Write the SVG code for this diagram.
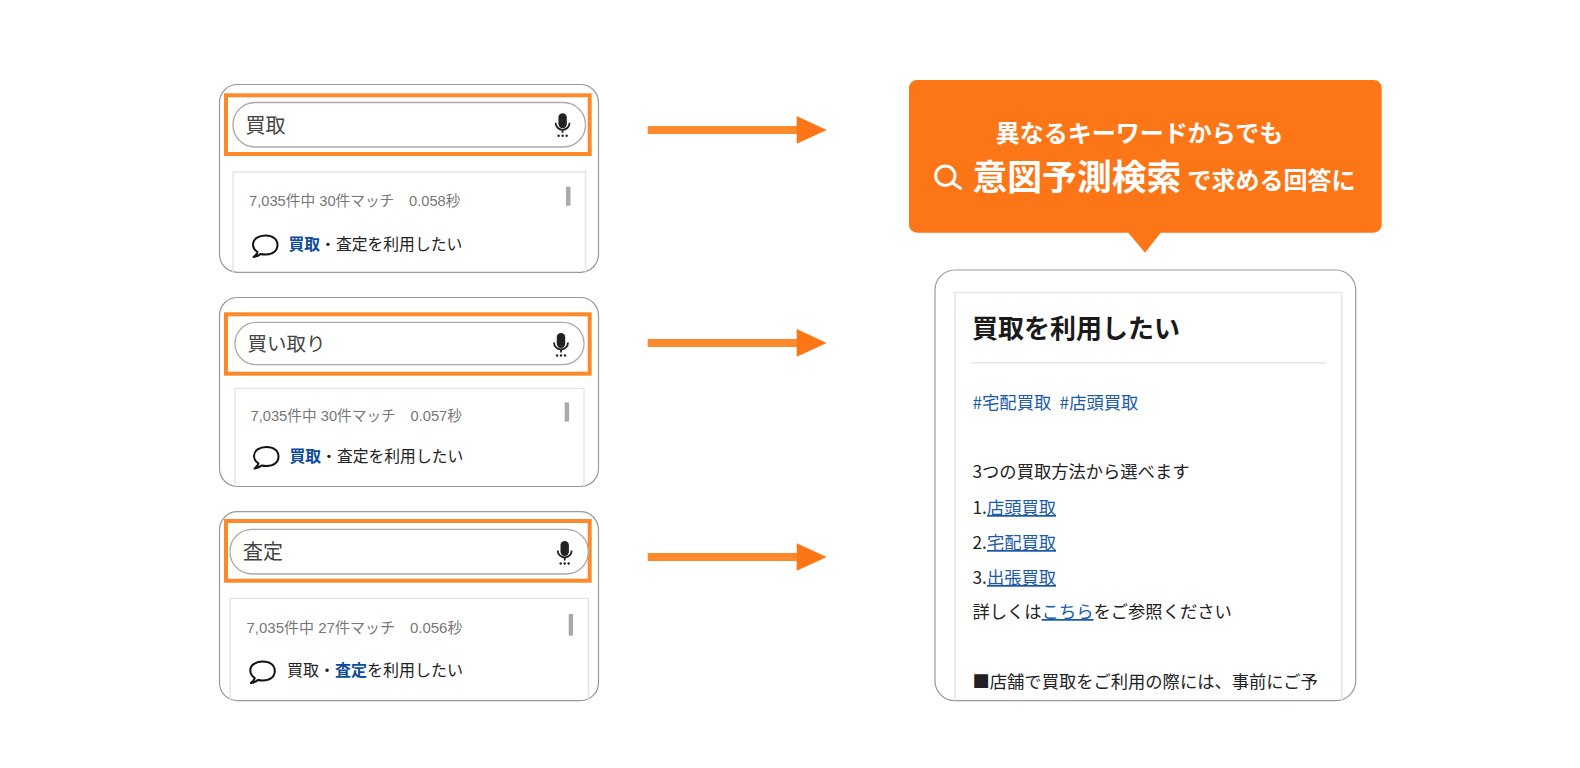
<svg xmlns="http://www.w3.org/2000/svg" width="1580" height="768" viewBox="0 0 1580 768">
<style>
text{font-family:"Noto Sans CJK JP","Noto Sans",sans-serif}
.panel{fill:#fff;stroke:#999;stroke-width:1.2}
.hl{fill:none;stroke:#fd892b;stroke-width:4}
.pill{fill:#fff;stroke:#aaa;stroke-width:1.3}
.inner{fill:none;stroke:#e2e2e2;stroke-width:1.3}
.q{font-size:20px;fill:#444}
.meta{font-size:14.7px;fill:#777;font-family:"Liberation Sans","Noto Sans CJK JP",sans-serif}
.res{font-size:15.8px;fill:#222}
.b{font-weight:700;fill:#0f4c9c}
.sb{fill:#aaa}
.bub{fill:none;stroke:#111;stroke-width:2;stroke-linejoin:round}
.body{font-size:17.3px;fill:#222}
.lk{fill:#1c5aa8}
.u{text-decoration:underline}
.wt{fill:#fff;font-weight:700}
.ln{fill:#fd892b}
.hd{fill:#fc7618}
</style>
<defs>
<g id="mic"><rect x="-4.200" y="-11" width="8.400" height="15" rx="4.200" fill="#222"/><path d="M-7 -1.500a7 7 0 0 0 14 0" fill="none" stroke="#222" stroke-width="1.800"/><path d="M0 5.500v3" stroke="#222" stroke-width="1.800"/><circle cx="-4" cy="11.500" r="1.200" fill="#222"/><circle cx="0" cy="11.500" r="1.200" fill="#222"/><circle cx="4" cy="11.500" r="1.200" fill="#222"/></g>
<path id="bubble" class="bub" d="M-7.500 6.500C-10.500 4.500 -12 2 -12 -1C-12 -6.500 -6.500 -10 0.500 -10C7.500 -10 12.500 -6.500 12.500 -0.500C12.500 5.500 7.500 9 0.500 9C-1 9 -3 8.800 -4.500 8.500C-6 10 -9 11 -11.500 11.500C-9.500 10 -8 8.500 -7.500 6.500Z"/>
</defs>
<g id="panel1">
<rect class="panel" x="219.500" y="84.500" width="379" height="187.800" rx="18"/>
<path class="inner" d="M233 272V172H585.500V272"/>
<rect class="hl" x="226" y="95.300" width="363.700" height="58.700"/>
<rect class="pill" x="233" y="102.500" width="352.500" height="44.500" rx="22"/>
<text class="q" x="245.500" y="132.500">買取</text>
<use href="#mic" x="562.600" y="124.300"/>
<text class="meta" x="249" y="206">7,035件中 30件マッチ　0.058秒</text>
<rect class="sb" x="566" y="186.700" width="4.500" height="19"/>
<use href="#bubble" x="265" y="245.500"/>
<text class="res" x="288.500" y="250"><tspan class="b">買取</tspan>・査定を利用したい</text>
</g>
<g id="panel2">
<rect class="panel" x="219.500" y="297.500" width="379" height="189" rx="18"/>
<path class="inner" d="M235 486.500V388.300H584V486.500"/>
<rect class="hl" x="226" y="314.300" width="363.700" height="59.400"/>
<rect class="pill" x="235" y="322.300" width="349" height="42.400" rx="21"/>
<text class="q" x="247.500" y="350.500" style="font-size:19.500px">買い取り</text>
<use href="#mic" x="561" y="344"/>
<text class="meta" x="250.500" y="421">7,035件中 30件マッチ　0.057秒</text>
<rect class="sb" x="564.700" y="402.300" width="4.400" height="19.400"/>
<use href="#bubble" x="266" y="457"/>
<text class="res" x="289.500" y="462"><tspan class="b">買取</tspan>・査定を利用したい</text>
</g>
<g id="panel3">
<rect class="panel" x="219.500" y="511.700" width="379" height="189" rx="18"/>
<path class="inner" d="M230 700.500V598.300H588.300V700.500"/>
<rect class="hl" x="226" y="521" width="363.700" height="59.700"/>
<rect class="pill" x="230" y="529.300" width="358.300" height="44.700" rx="22"/>
<text class="q" x="243" y="558.500">査定</text>
<use href="#mic" x="564.700" y="552"/>
<text class="meta" x="246.500" y="633" style="font-size:15px">7,035件中 27件マッチ　0.056秒</text>
<rect class="sb" x="568.700" y="614" width="4.300" height="21.700"/>
<use href="#bubble" x="262.300" y="671.500"/>
<text class="res" x="287" y="676" style="font-size:16px">買取・<tspan class="b">査定</tspan>を利用したい</text>
</g>
<g id="connectors">
<g id="arrow1"><rect class="ln" x="647.700" y="126" width="150" height="8"/><path class="hd" d="M796.700 116L826.700 130L796.700 143.700Z"/></g>
<g id="arrow2"><rect class="ln" x="647.700" y="339" width="150" height="8"/><path class="hd" d="M796.700 329L826.700 343L796.700 356.700Z"/></g>
<g id="arrow3"><rect class="ln" x="647.700" y="553" width="150" height="8"/><path class="hd" d="M796.700 543.300L826.700 557L796.700 570.700Z"/></g>
</g>
<g id="callout">
<path d="M917 80H1373.700a8 8 0 0 1 8 8V224.700a8 8 0 0 1 -8 8H1160.700L1145 252.700L1128.300 232.700H917a8 8 0 0 1 -8 -8V88a8 8 0 0 1 8 -8Z" fill="#fc7618"/>
<text class="wt" x="1139.500" y="141.500" font-size="24" text-anchor="middle">異なるキーワードからでも</text>
<circle cx="945.300" cy="175.700" r="9.700" fill="none" stroke="#fff" stroke-width="3"/>
<path d="M952.500 183L961.500 189" stroke="#fff" stroke-width="3" fill="none"/>
<text class="wt" x="972.500" y="190" font-size="34.800">意図予測検索</text>
<text class="wt" x="1187.500" y="188.500" font-size="24">で求める回答に</text>
</g>
<g id="article">
<rect class="panel" x="935" y="270" width="420.700" height="430.700" rx="20"/>
<path d="M955 700.500V292.500H1341.700V700.500" fill="none" stroke="#e6e6e6" stroke-width="1.600"/>
<text x="972" y="337.500" font-size="26" font-weight="700" fill="#1a1a1a">買取を利用したい</text>
<line x1="970" y1="362.700" x2="1326.700" y2="362.700" stroke="#e8e8e8" stroke-width="1.500"/>
<text class="body lk" x="972.500" y="409" word-spacing="4.500">#宅配買取 #店頭買取</text>
<text class="body" x="972.500" y="477.500">3つの買取方法から選べます</text>
<text class="body" x="972.500" y="514">1.<tspan class="lk u">店頭買取</tspan></text>
<text class="body" x="972.500" y="549">2.<tspan class="lk u">宅配買取</tspan></text>
<text class="body" x="972.500" y="584">3.<tspan class="lk u">出張買取</tspan></text>
<text class="body" x="972.500" y="618">詳しくは<tspan class="lk u">こちら</tspan>をご参照ください</text>
<text class="body" x="972.500" y="688">■店舗で買取をご利用の際には、事前にご予</text>
</g>
</svg>
